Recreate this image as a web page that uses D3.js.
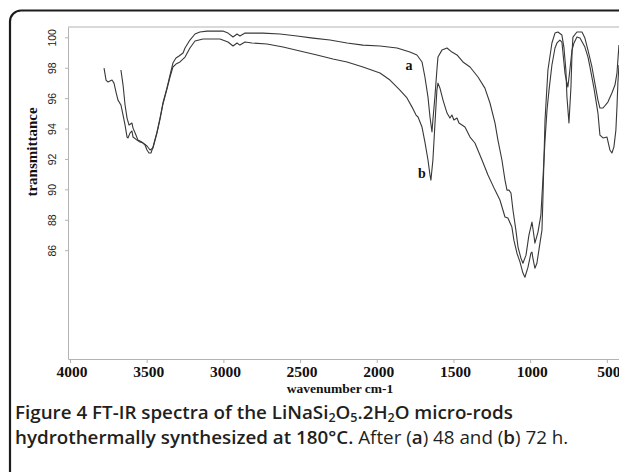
<!DOCTYPE html>
<html lang="en">
<head>
<meta charset="UTF-8">
<title>FT-IR spectra of LiNaSi2O5.2H2O</title>
<script src="https://d3js.org/d3.v7.min.js"></script>
<style>
  body { margin: 0; background: #fff; }
  .curve { fill: none; stroke: #383838; stroke-width: 1.1px; stroke-linejoin: round; }
  .axis path, .axis line { stroke: #b3b3b3; stroke-width: 1px; }
  .xaxis text { font-family: "Liberation Serif", serif; font-weight: bold; font-size: 15.5px; fill: #111; }
  .yaxis text { font-family: "Liberation Sans", sans-serif; font-size: 10.5px; fill: #222; }
  .title { font-family: "Liberation Serif", serif; font-weight: bold; fill: #111; }
  .caption { font-family: "Open Sans", sans-serif; font-size: 18.8px; fill: #231f20; }
</style>
</head>
<body>
<svg width="619" height="472"></svg>
<script>
const xTicks = [4000, 3500, 3000, 2500, 2000, 1500, 1000, 500];
const yTicks = [86, 88, 90, 92, 94, 96, 98, 100];

// [wavenumber cm-1, transmittance]
const spectrumA = [
  [3668, 97.85], [3654, 96.86], [3641, 95.55], [3628, 94.69], [3615, 94.23], [3596, 94.36],
  [3589, 94.03], [3570, 93.57], [3557, 93.24], [3531, 93.11], [3511, 92.92], [3498, 92.59],
  [3485, 92.39], [3472, 92.39], [3459, 92.78], [3433, 93.77], [3413, 94.69], [3394, 95.68],
  [3368, 96.66], [3348, 97.52], [3329, 98.31], [3309, 98.64], [3289, 98.77], [3263, 98.97],
  [3250, 99.30], [3218, 99.82], [3185, 100.22], [3153, 100.35], [3107, 100.41], [3003, 100.41],
  [2970, 100.28], [2937, 100.02], [2911, 100.22], [2892, 100.09], [2859, 100.28], [2742, 100.28],
  [2631, 100.22], [2520, 100.09], [2416, 99.95], [2305, 99.82], [2194, 99.63], [2090, 99.49],
  [1979, 99.43], [1868, 99.30], [1784, 99.03], [1738, 98.84], [1705, 98.38], [1686, 97.39],
  [1666, 96.07], [1653, 94.76], [1640, 93.77], [1634, 94.56], [1621, 96.07], [1608, 97.85],
  [1601, 98.70], [1575, 99.16], [1542, 99.30], [1510, 99.03], [1477, 98.84], [1438, 98.38],
  [1392, 98.05], [1340, 97.39], [1295, 96.66], [1262, 95.68], [1229, 94.36], [1210, 93.24],
  [1184, 91.93], [1164, 90.61], [1151, 89.95], [1138, 89.95], [1125, 89.76], [1112, 88.64],
  [1093, 87.32], [1079, 86.20], [1060, 85.47], [1047, 85.14], [1027, 85.67], [1008, 86.99],
  [988, 87.85], [975, 86.93], [969, 86.46], [949, 87.19], [930, 88.31], [917, 90.61],
  [903, 93.24], [890, 95.22], [877, 96.53], [858, 98.18], [838, 99.30], [825, 99.63],
  [806, 99.82], [793, 99.69], [773, 97.65], [767, 97.32], [754, 96.73], [741, 97.85],
  [727, 99.16], [714, 99.63], [695, 100.02], [675, 99.95], [643, 99.36], [623, 98.70],
  [610, 98.05], [584, 96.66], [558, 95.02], [545, 93.57], [525, 93.38], [499, 93.44],
  [480, 92.59], [467, 92.39], [454, 92.78], [441, 93.90], [434, 95.41], [428, 96.99], [421, 98.18]
];

const spectrumB = [
  [3778, 97.98], [3765, 97.19], [3752, 97.06], [3726, 97.19], [3713, 96.99], [3700, 96.40],
  [3687, 95.87], [3668, 95.55], [3654, 94.89], [3641, 94.23], [3628, 93.44], [3622, 93.38],
  [3609, 93.70], [3596, 93.84], [3589, 93.44], [3563, 93.24], [3544, 93.11], [3524, 93.05],
  [3498, 92.85], [3478, 92.59], [3459, 92.72], [3433, 93.70], [3413, 94.62], [3394, 95.61],
  [3368, 96.60], [3348, 97.39], [3329, 98.05], [3309, 98.24], [3283, 98.38], [3250, 98.70],
  [3218, 99.30], [3185, 99.76], [3133, 99.89], [3022, 99.89], [2970, 99.69], [2937, 99.43],
  [2911, 99.63], [2892, 99.49], [2859, 99.69], [2814, 99.63], [2716, 99.56], [2611, 99.36],
  [2501, 99.10], [2390, 98.84], [2286, 98.57], [2194, 98.38], [2090, 98.05], [1979, 97.65],
  [1914, 97.19], [1849, 96.53], [1803, 96.01], [1770, 95.41], [1744, 94.89], [1731, 94.76],
  [1705, 94.10], [1686, 93.11], [1666, 91.93], [1653, 90.94], [1647, 90.61], [1634, 91.93],
  [1621, 94.23], [1608, 96.53], [1601, 96.99], [1588, 96.66], [1568, 95.87], [1542, 95.02],
  [1523, 94.69], [1510, 94.89], [1497, 94.56], [1477, 94.69], [1464, 94.36], [1425, 94.10],
  [1392, 93.44], [1360, 93.05], [1314, 91.93], [1275, 90.94], [1229, 89.95], [1197, 89.30],
  [1164, 88.18], [1145, 88.11], [1119, 87.52], [1106, 86.66], [1086, 85.80], [1066, 85.21],
  [1047, 84.49], [1034, 84.22], [1014, 84.88], [995, 85.80], [988, 85.87], [982, 85.47],
  [969, 84.81], [956, 85.14], [943, 86.00], [923, 87.32], [917, 89.30], [903, 94.56],
  [884, 97.85], [858, 99.63], [838, 100.28], [819, 100.35], [793, 100.15], [780, 99.36],
  [767, 97.85], [760, 96.07], [747, 94.36], [734, 96.73], [727, 98.97], [721, 100.02],
  [695, 100.35], [662, 100.35], [643, 99.95], [623, 99.16], [597, 98.05], [578, 96.99],
  [558, 95.87], [545, 95.35], [525, 95.35], [493, 95.74], [467, 96.34], [447, 96.86],
  [434, 97.65], [428, 98.51], [421, 99.49]
];

const curveLabels = [
  { name: "a", wn: 1790, t: 97.85 },
  { name: "b", wn: 1705, t: 90.74 }
];

const captionLines = [
  [ { s: "Figure 4", b: true }, { s: " FT-IR spectra of the LiNaSi", b: true }, { s: "2", b: true, sub: true },
    { s: "O", b: true }, { s: "5", b: true, sub: true }, { s: ".2H", b: true }, { s: "2", b: true, sub: true },
    { s: "O micro-rods", b: true } ],
  [ { s: "hydrothermally synthesized at 180°C.", b: true }, { s: " After (" }, { s: "a", b: true },
    { s: ") 48 and (" }, { s: "b", b: true }, { s: ") 72 h." } ]
];

const svg = d3.select("svg");

// outer frame
svg.append("rect")
  .attr("x", 10).attr("y", 10.5)
  .attr("width", 650).attr("height", 490)
  .attr("rx", 11).attr("ry", 11)
  .attr("fill", "none").attr("stroke", "#1c1c1c").attr("stroke-width", 2.2);

const x = d3.scaleLinear().domain([4013, 349]).range([68, 630]);
const y = d3.scaleLinear().domain([78.84, 100.68]).range([359, 27]);

// top border of plot
svg.append("line")
  .attr("x1", x.range()[0]).attr("x2", x.range()[1])
  .attr("y1", y.range()[1]).attr("y2", y.range()[1])
  .attr("stroke", "#b3b3b3");

const xAxis = svg.append("g")
  .attr("class", "axis xaxis")
  .attr("transform", `translate(0,${y.range()[0]})`)
  .call(d3.axisBottom(x).tickValues(xTicks).tickFormat(d3.format("d")).tickSize(4).tickSizeOuter(0));
xAxis.selectAll("text").attr("y", 18).attr("dy", 0).attr("dx", 1.5);

const yAxis = svg.append("g")
  .attr("class", "axis yaxis")
  .attr("transform", `translate(${x.range()[0]},0)`)
  .call(d3.axisLeft(y).tickValues(yTicks).tickSize(3).tickSizeOuter(0));
yAxis.selectAll("text")
  .attr("x", 0).attr("dy", "0.35em")
  .attr("text-anchor", "middle")
  .attr("transform", "translate(-16,0) rotate(-90)");

const line = d3.line().x(d => x(d[0])).y(d => y(d[1]));

svg.append("path").datum(spectrumA).attr("class", "curve").attr("d", line);
svg.append("path").datum(spectrumB).attr("class", "curve").attr("d", line);

svg.selectAll(".clabel")
  .data(curveLabels)
  .enter().append("text")
  .attr("class", "title")
  .attr("x", d => x(d.wn)).attr("y", d => y(d.t))
  .attr("text-anchor", "middle")
  .style("font-size", "14px")
  .text(d => d.name);

svg.append("text")
  .attr("class", "title")
  .attr("transform", "translate(37,152) rotate(-90)")
  .attr("text-anchor", "middle")
  .style("font-size", "15px")
  .text("transmittance");

svg.append("text")
  .attr("class", "title")
  .attr("x", 340).attr("y", 393)
  .attr("text-anchor", "middle")
  .style("font-size", "13.5px")
  .text("wavenumber cm-1");

// caption
const capY = [419, 444];
captionLines.forEach((segs, i) => {
  const t = svg.append("text").attr("class", "caption").attr("x", 15).attr("y", capY[i]);
  let shifted = false;
  segs.forEach(seg => {
    const sp = t.append("tspan").text(seg.s).attr("font-weight", seg.b ? "600" : "normal");
    if (seg.sub && !shifted) { sp.attr("dy", 3).style("font-size", "12.5px"); shifted = true; }
    else if (!seg.sub && shifted) { sp.attr("dy", -3); shifted = false; }
  });
});
</script>
</body>
</html>
